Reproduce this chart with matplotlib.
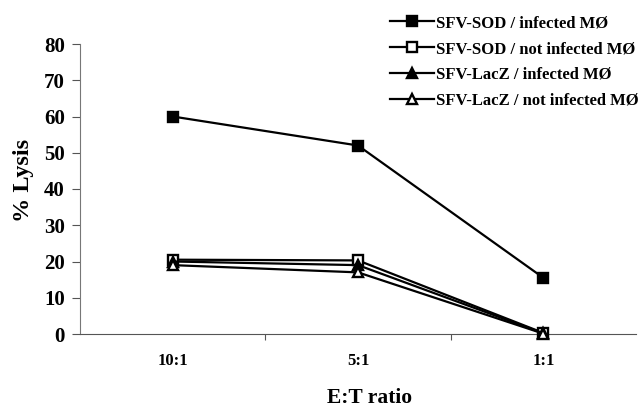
import numpy as np
import matplotlib.pyplot as plt

# data
ratios = ['10:1', '5:1', '1:1']
sod_inf = [60, 52, 15.5]
sod_not = [20.5, 20.3, 0.3]
lacz_inf = [20, 19, 0.2]
lacz_not = [19, 17, 0.1]
labels = ['SFV-SOD / infected MØ', 'SFV-SOD / not infected MØ',
          'SFV-LacZ / infected MØ', 'SFV-LacZ / not infected MØ']

plt.rcParams['font.family'] = ['Liberation Serif', 'DejaVu Serif']
plt.rcParams['font.weight'] = 'bold'

fig = plt.figure(figsize=(6.44, 4.08), dpi=100)
ax = fig.add_axes([80/644, 1 - 334/408, (636 - 80)/644, (334 - 44)/408])

x = np.arange(len(ratios)) + 0.5
series = [sod_inf, sod_not, lacz_inf, lacz_not]
markers = ['s', 's', '^', '^']
faces = ['black', 'white', 'black', 'white']
for vals, m, fc, lab in zip(series, markers, faces, labels):
    ax.plot(x, vals, color='black', lw=1.6, marker=m, ms=7.5,
            mfc=fc, mec='black', mew=1.7, label=lab, clip_on=False, zorder=3)

ax.set_xlim(0, 3)
ax.set_ylim(0, 80)
ax.set_yticks(range(0, 81, 10))
ax.set_xticks([1, 2])
ax.set_xticklabels([])
ax.set_xticks(x, minor=True)
ax.set_xticklabels(ratios, minor=True)
ax.tick_params(axis='x', which='minor', length=0, pad=14, labelsize=12)
ax.tick_params(axis='x', which='major', length=4, direction='out', color='#555555')
ax.tick_params(axis='y', length=6, direction='out', labelsize=15, pad=5, color='#555555')
for s in ['top', 'right']:
    ax.spines[s].set_visible(False)
ax.spines['left'].set_color('#777777')
ax.spines['bottom'].set_color('#555555')

ax.set_ylabel('% Lysis', fontsize=17.5, fontweight='bold')
ax.yaxis.set_label_coords(-0.083, 0.528)
ax.set_xlabel('E:T ratio', fontsize=15.5, fontweight='bold')
ax.xaxis.set_label_coords(0.52, -0.187)

fig.legend(loc='upper left', bbox_to_anchor=(381/644, 0.985), frameon=False,
           fontsize=12, handlelength=2.6, handletextpad=0.15, labelspacing=0.59,
           borderaxespad=0.15)

fig.savefig('out.png', dpi=100)
